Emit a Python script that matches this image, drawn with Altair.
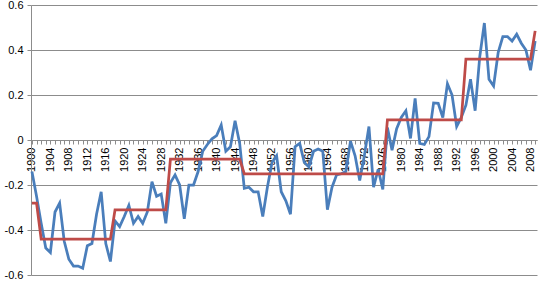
import altair as alt
import pandas as pd

years = list(range(1900, 2010))
label_years = list(range(1900, 2010, 4))

anomaly = [
    -0.14, -0.25, -0.37, -0.48, -0.50, -0.32, -0.28, -0.45, -0.53, -0.56,
    -0.56, -0.57, -0.47, -0.46, -0.33, -0.23, -0.46, -0.54, -0.36, -0.385,
    -0.34, -0.29, -0.37, -0.34, -0.37, -0.32, -0.185, -0.25, -0.24, -0.37,
    -0.19, -0.155, -0.20, -0.35, -0.20, -0.20, -0.14, -0.05, -0.02, 0.005,
    0.02, 0.067, -0.05, -0.03, 0.086, -0.015, -0.215, -0.21, -0.23, -0.23,
    -0.34, -0.21, -0.10, -0.07, -0.23, -0.27, -0.33, -0.03, -0.015, -0.10,
    -0.12, -0.05, -0.04, -0.05, -0.31, -0.21, -0.155, -0.15, -0.14, -0.005,
    -0.07, -0.18, -0.07, 0.06, -0.21, -0.13, -0.22, 0.055, -0.045, 0.05,
    0.10, 0.13, 0.007, 0.185, -0.015, -0.02, 0.015, 0.165, 0.163, 0.10,
    0.25, 0.20, 0.06, 0.10, 0.155, 0.27, 0.13, 0.37, 0.52, 0.27,
    0.24, 0.39, 0.46, 0.46, 0.44, 0.47, 0.43, 0.40, 0.31, 0.44,
]

regime = [
    -0.28, -0.28, -0.44, -0.44, -0.44, -0.44, -0.44, -0.44, -0.44, -0.44,
    -0.44, -0.44, -0.44, -0.44, -0.44, -0.44, -0.44, -0.44, -0.31, -0.31,
    -0.31, -0.31, -0.31, -0.31, -0.31, -0.31, -0.31, -0.31, -0.31, -0.31,
    -0.085, -0.085, -0.085, -0.085, -0.085, -0.085, -0.085, -0.085, -0.085, -0.085,
    -0.085, -0.085, -0.085, -0.085, -0.085, -0.085, -0.15, -0.15, -0.15, -0.15,
    -0.15, -0.15, -0.15, -0.15, -0.15, -0.15, -0.15, -0.15, -0.15, -0.15,
    -0.15, -0.15, -0.15, -0.15, -0.15, -0.15, -0.15, -0.15, -0.15, -0.15,
    -0.15, -0.15, -0.15, -0.15, -0.15, -0.15, -0.15, 0.09, 0.09, 0.09,
    0.09, 0.09, 0.09, 0.09, 0.09, 0.09, 0.09, 0.09, 0.09, 0.09,
    0.09, 0.09, 0.09, 0.09, 0.36, 0.36, 0.36, 0.36, 0.36, 0.36,
    0.36, 0.36, 0.36, 0.36, 0.36, 0.36, 0.36, 0.36, 0.36, 0.485,
]

y_ticks = [-0.6, -0.4, -0.2, 0.0, 0.2, 0.4, 0.6]

df = pd.DataFrame({"year": years, "anomaly": anomaly, "regime": regime})

FONT = "Liberation Sans"
GRID = "#8c8c8c"
XSCALE = alt.Scale(domain=[1899.8, 2009.4], nice=False, zero=False)
YSCALE = alt.Scale(domain=[-0.6, 0.6], nice=False, zero=False)

# minor axis: a tick every year, no labels
x_ticks_axis = alt.Axis(
    orient="bottom",
    values=years,
    labels=False,
    tickSize=4,
    tickColor=GRID,
    domainColor=GRID,
    grid=False,
    offset=-135,
    title=None,
)

# label axis: every fourth year, rotated labels
x_label_axis = alt.Axis(
    orient="bottom",
    values=label_years,
    format="d",
    labelAngle=270,
    labelFont=FONT,
    labelFontSize=11,
    labelColor="#000000",
    labelPadding=7,
    labelOverlap=False,
    labelFlush=False,
    labelBound=False,
    ticks=False,
    domain=False,
    grid=False,
    offset=-135,
    title=None,
)

y_axis = alt.Axis(
    orient="left",
    values=y_ticks,
    labelExpr="datum.value == 0 ? '0' : (datum.value < 0 ? '-' : '') + format(abs(datum.value), '.1f')",
    labelFont=FONT,
    labelFontSize=11,
    labelColor="#000000",
    labelPadding=4,
    labelOverlap=False,
    labelFlush=False,
    tickSize=4,
    tickColor=GRID,
    domainColor=GRID,
    grid=True,
    gridColor=GRID,
    gridWidth=1,
    title=None,
)

base = alt.Chart(df)

blue = base.mark_line(color="#4A7EBB", strokeWidth=2.75).encode(
    x=alt.X("year:Q", scale=XSCALE, axis=x_ticks_axis),
    y=alt.Y("anomaly:Q", scale=YSCALE, axis=y_axis),
)

red = base.mark_line(color="#BE4B48", strokeWidth=2.75).encode(
    x=alt.X("year:Q", scale=XSCALE, axis=x_label_axis),
    y=alt.Y("regime:Q", scale=YSCALE, axis=y_axis),
)

chart = (
    alt.layer(blue, red)
    .resolve_axis(x="independent")
    .properties(
        width=506,
        height=270,
        padding={"left": 31, "top": 5, "right": 6, "bottom": 9},
        autosize=alt.AutoSizeParams(type="none"),
        background="white",
    )
    .configure_view(stroke=None)
)

chart.save("out.html", embed_options={"renderer": "svg", "actions": False})
